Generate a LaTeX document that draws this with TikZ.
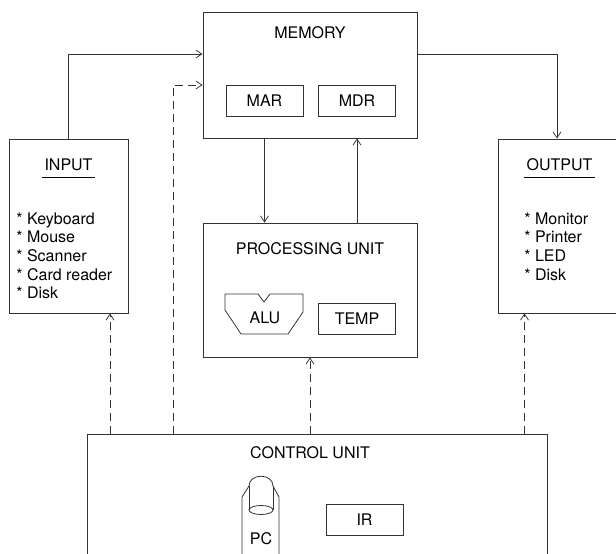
\documentclass[tikz,border=0pt]{standalone}
\usepackage{fontspec}
\setmainfont{TeX Gyre Heros}
\usetikzlibrary{arrows.meta,positioning,calc}

\begin{document}
\begin{tikzpicture}[x=1pt,y=-1pt,font=\fontsize{16}{18.7}\selectfont,>={Straight Barb[length=6pt,width=8pt]},
 line width=0.8pt,
 unit/.style={draw=black!80,inner sep=0pt},
 reg/.style={draw=black!80,inner sep=0pt,minimum width=77pt,minimum height=31pt},
 ttl/.style={inner sep=2pt},
 lst/.style={anchor=north west,align=left,inner sep=0pt},
 wire/.style={->,draw=black!80},
 ctl/.style={->,draw=black!80,dash pattern=on 8pt off 5pt}]
\useasboundingbox (0,0) rectangle (616,554);
% memory
\node[unit,minimum width=214pt,minimum height=126pt] (mem) at (310,75) {};
\node (memt) at (310,33) {MEMORY};
\node[reg] (mar) at (264.5,100.5) {MAR};
\node[reg] (mdr) at (357,100.5) {MDR};
% input / output
\node[unit,minimum width=119pt,minimum height=174pt] (inp) at (68.5,226) {};
\node[ttl] (inpt) at (68.5,165) {INPUT};
\draw[line width=0.6pt] ([yshift=-4pt]inpt.south west) -- ([yshift=-4pt]inpt.south east);
\node[lst] (inpl) at (16,212) {* Keyboard\\* Mouse\\* Scanner\\* Card reader\\* Disk};
\node[unit,minimum width=123pt,minimum height=174pt] (out) at (559.5,226) {};
\node[ttl] (outt) at (559.5,165) {OUTPUT};
\draw[line width=0.6pt] ([yshift=-4pt]outt.south west) -- ([yshift=-4pt]outt.south east);
\node[lst] (outl) at (524,212) {* Monitor\\* Printer\\* LED\\* Disk};
% processing unit
\node[unit,minimum width=214pt,minimum height=134pt] (proc) at (310,290) {};
\node (proct) at (310,249) {PROCESSING UNIT};
\draw[draw=black!80] (225,294) -- (258,294) -- (264,302) -- (270,294) -- (303,294) -- (303,312)
 -- (288,334) -- (241,334) -- (225,310) -- cycle;
\node (alu) at (265,318) {ALU};
\node[reg] (temp) at (357,318.5) {TEMP};
% control unit
\node[unit,minimum width=460pt,minimum height=140pt] (ctrl) at (317,504) {};
\node (ctrlt) at (310,453) {CONTROL UNIT};
\node[reg] (ir) at (364.5,519.5) {IR};
\draw[draw=black!80] (242,560) -- (242,497) -- (249,486) .. controls (249,473) and (273,473) .. (273,486)
 -- (279,497) -- (279,560);
\draw[draw=black!80] (249,486) -- (249,510) (273,486) -- (273,510);
\draw[draw=black!80] (261,510) ellipse [x radius=12, y radius=4.5];
\node (pc) at (261,539) {PC};
% data paths
\coordinate (topy) at (0,54);
\coordinate (cuy) at (173,85);
\coordinate (inx) at (110,0);
\coordinate (outx) at (524.5,0);
\coordinate (outy) at (557,0);
\draw[wire] (inp.north) |- (mem.west |- topy);
\draw[wire] (mem.east |- topy) -| (out.north -| outy);
\draw[wire] (mar |- mem.south) -- (mar |- proc.north);
\draw[wire] (mdr |- proc.north) -- (mdr |- mem.south);
% control signals
\draw[ctl] (ctrl.north -| cuy) |- (mem.west |- cuy);
\draw[ctl] (ctrl.north -| inx) -- (inp.south -| inx);
\draw[ctl] (ctrl.north -| proc.south) -- (proc.south);
\draw[ctl] (ctrl.north -| outx) -- (out.south -| outx);
\end{tikzpicture}
\end{document}
